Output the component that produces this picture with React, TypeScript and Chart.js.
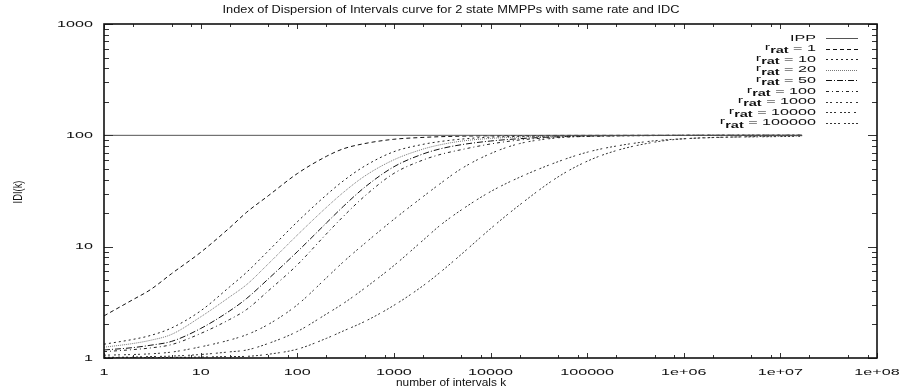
import React, { useEffect, useRef } from "react";
import { Chart, registerables } from "chart.js";

Chart.register(...registerables);

// Number of intervals k at which each IDI curve is sampled
const kValues = [
  1, 2, 3, 5, 10, 20, 30, 50, 100, 200, 300, 500, 1000, 2000, 3000, 5000,
  1e4, 2e4, 5e4, 1e5, 2e5, 5e5, 1e6, 1e7, 16777216,
];

// Interrupted Poisson process: constant IDI
const ippK = [1, 16777216];
const ippIdi = [100, 100];

// IDI(k) of the 2 state MMPPs, one array per rate ratio
const idiR1 = [2.39, 3.35, 4.09, 5.72, 8.89, 14.8, 20.4, 28.6, 45.3, 64.7, 75.7, 84.4, 92.2, 95.8, 97.2, 98.3, 99.1, 99.5, 99.8, 99.9, 99.95, 100, 100, 100, 100];
const idiR10 = [1.33, 1.47, 1.59, 1.86, 2.65, 4.36, 5.9, 9.13, 16.7, 29.1, 39.0, 53.0, 71.3, 83.0, 87.9, 92.5, 96.4, 97.8, 98.9, 99.4, 99.7, 99.9, 99.95, 100, 100];
const idiR20 = [1.25, 1.35, 1.44, 1.63, 2.34, 3.54, 4.57, 6.99, 12.7, 22.5, 30.7, 43.1, 60.3, 75.2, 82.2, 88.7, 93.8, 96.4, 98.2, 99.0, 99.5, 99.8, 99.9, 100, 100];
const idiR50 = [1.18, 1.24, 1.3, 1.41, 1.84, 2.65, 3.43, 5.12, 9.0, 16.3, 23.0, 34.2, 52.2, 68.0, 75.5, 82.4, 88.9, 93.3, 97.2, 98.5, 99.2, 99.6, 99.8, 100, 100];
const idiR100 = [1.14, 1.19, 1.23, 1.32, 1.66, 2.22, 2.73, 4.0, 6.86, 13.0, 18.7, 28.5, 45.5, 60.0, 67.2, 74.4, 83.6, 90.8, 96.0, 97.7, 98.8, 99.5, 99.8, 100, 100];
const idiR1000 = [1.06, 1.075, 1.09, 1.13, 1.26, 1.45, 1.62, 2.0, 3.0, 5.24, 7.3, 10.7, 17.6, 28.1, 36.7, 50.2, 68.5, 84.3, 95.0, 98.4, 99.2, 99.6, 99.8, 100, 100];
const idiR10000 = [1.015, 1.02, 1.03, 1.04, 1.075, 1.135, 1.18, 1.35, 1.73, 2.48, 3.09, 4.24, 6.76, 11.4, 15.5, 21.4, 31.2, 42.0, 58.0, 70.5, 80.1, 89.4, 93.2, 98.5, 99.0];
const idiR100000 = [1.005, 1.006, 1.008, 1.012, 1.02, 1.03, 1.035, 1.08, 1.2, 1.5, 1.75, 2.13, 2.97, 4.45, 5.86, 8.55, 14.5, 23.7, 42.3, 58.5, 72.9, 86.9, 93.1, 97.5, 98.0];

const rRatios = [1, 10, 20, 50, 100, 1000, 10000, 100000];
const rCurves = [idiR1, idiR10, idiR20, idiR50, idiR100, idiR1000, idiR10000, idiR100000];

const xTickValues = [1, 10, 100, 1000, 1e4, 1e5, 1e6, 1e7, 1e8];
const xTickLabels = ["1", "10", "100", "1000", "10000", "100000", "1e+06", "1e+07", "1e+08"];
const yTickValues = [1, 10, 100, 1000];
const yTickLabels = ["1", "10", "100", "1000"];
const xMinorMultipliers = [2, 5, 8];
const yMinorMultipliers = [2, 3, 4, 5, 6, 7, 8, 9];

const titleText = "Index of Dispersion of Intervals curve for 2 state MMPPs with same rate and IDC";
const xAxisTitle = "number of intervals k";
const yAxisTitle = "IDI(k)";

// line styles in the order of rRatios
const curveStyles = [
  { color: "#111", dash: [4, 3] },
  { color: "#222", dash: [2, 3] },
  { color: "#777", dash: [1, 1] },
  { color: "#111", dash: [6, 2, 1, 2] },
  { color: "#222", dash: [3, 3, 1, 3] },
  { color: "#333", dash: [2, 2, 2, 4] },
  { color: "#333", dash: [2, 2, 2, 2, 2, 4] },
  { color: "#333", dash: [2, 2, 2, 2, 2, 2, 2, 4] },
];
const ippStyle = { color: "#555", dash: [] as number[] };

const FONT = '"Liberation Sans", Arial, Helvetica, sans-serif';
const TEXT_COLOR = "#111";

function drawText(
  ctx: CanvasRenderingContext2D,
  text: string,
  x: number,
  y: number,
  size: number,
  sx: number,
  align: CanvasTextAlign,
  weight = "normal"
) {
  ctx.save();
  ctx.translate(x, y);
  ctx.scale(sx, 1);
  ctx.font = `${weight} ${size}px ${FONT}`;
  ctx.fillStyle = TEXT_COLOR;
  ctx.textAlign = align;
  ctx.textBaseline = "middle";
  ctx.fillText(text, 0, 0);
  ctx.restore();
}

function textWidth(ctx: CanvasRenderingContext2D, text: string, size: number, sx: number, weight = "normal") {
  ctx.save();
  ctx.font = `${weight} ${size}px ${FONT}`;
  const w = ctx.measureText(text).width * sx;
  ctx.restore();
  return w;
}

const LABEL_SIZE = 9.5;
const LABEL_SX = 1.7;

const gnuplotFrame = {
  id: "gnuplotFrame",
  afterDatasetsDraw(chart: any) {
    const { ctx, chartArea: a, scales } = chart;
    const xs = scales.x;
    const ys = scales.y;
    ctx.save();

    // tick marks pointing inwards on all four sides
    ctx.strokeStyle = "#333";
    ctx.lineWidth = 1;
    ctx.setLineDash([]);
    ctx.beginPath();
    xTickValues.forEach((v, i) => {
      const px = Math.round(xs.getPixelForValue(v)) + 0.5;
      ctx.moveTo(px, a.bottom);
      ctx.lineTo(px, a.bottom - 5);
      ctx.moveTo(px, a.top);
      ctx.lineTo(px, a.top + 5);
      if (i < xTickValues.length - 1) {
        xMinorMultipliers.forEach((m) => {
          const mx = Math.round(xs.getPixelForValue(v * m)) + 0.5;
          ctx.moveTo(mx, a.bottom);
          ctx.lineTo(mx, a.bottom - 3);
          ctx.moveTo(mx, a.top);
          ctx.lineTo(mx, a.top + 3);
        });
      }
    });
    yTickValues.forEach((v, i) => {
      const py = Math.round(ys.getPixelForValue(v)) + 0.5;
      ctx.moveTo(a.left, py);
      ctx.lineTo(a.left + 9, py);
      ctx.moveTo(a.right, py);
      ctx.lineTo(a.right - 9, py);
      if (i < yTickValues.length - 1) {
        yMinorMultipliers.forEach((m) => {
          const my = Math.round(ys.getPixelForValue(v * m)) + 0.5;
          ctx.moveTo(a.left, my);
          ctx.lineTo(a.left + 5, my);
          ctx.moveTo(a.right, my);
          ctx.lineTo(a.right - 5, my);
        });
      }
    });
    ctx.stroke();

    // plot border
    ctx.strokeStyle = "#111";
    ctx.lineWidth = 1.6;
    ctx.strokeRect(a.left, a.top, a.right - a.left, a.bottom - a.top);
    ctx.restore();
  },
  afterDraw(chart: any) {
    const { ctx, chartArea: a, scales } = chart;
    const xs = scales.x;
    const ys = scales.y;
    const W = chart.width;

    // tick labels
    xTickValues.forEach((v, i) => {
      drawText(ctx, xTickLabels[i], xs.getPixelForValue(v), a.bottom + 14, LABEL_SIZE, LABEL_SX, "center");
    });
    yTickValues.forEach((v, i) => {
      drawText(ctx, yTickLabels[i], a.left - 11, ys.getPixelForValue(v), LABEL_SIZE, LABEL_SX, "right");
    });

    // titles
    drawText(ctx, titleText, W / 2, 10, 10.5, 1.22, "center");
    drawText(ctx, xAxisTitle, 451, a.bottom + 25, 10.5, 1.13, "center");
    ctx.save();
    ctx.translate(18, 192);
    ctx.rotate(-Math.PI / 2);
    ctx.scale(0.72, 1);
    ctx.font = `normal 13px ${FONT}`;
    ctx.fillStyle = TEXT_COLOR;
    ctx.textAlign = "center";
    ctx.textBaseline = "middle";
    ctx.fillText(yAxisTitle, 0, 0);
    ctx.restore();

    // key in the upper right corner
    const textRight = 816;
    const sampleLeft = 826;
    const sampleRight = 858;
    const rowTop = 38;
    const rowStep = 10.6;
    const entries = [{ style: ippStyle, ratio: null as number | null }].concat(
      rRatios.map((r, i) => ({ style: curveStyles[i], ratio: r }))
    );
    entries.forEach((e, i) => {
      const y = rowTop + i * rowStep;
      if (e.ratio === null) {
        drawText(ctx, "IPP", textRight, y, LABEL_SIZE, LABEL_SX, "right");
      } else {
        const tail = ` = ${e.ratio}`;
        const wTail = textWidth(ctx, tail, LABEL_SIZE, LABEL_SX);
        const wSub = textWidth(ctx, "rat", 8.5, LABEL_SX, "bold");
        const wR = textWidth(ctx, "r", LABEL_SIZE, LABEL_SX);
        const start = textRight - wTail - wSub - wR;
        drawText(ctx, "r", start, y - 1, LABEL_SIZE, LABEL_SX, "left");
        drawText(ctx, "rat", start + wR, y + 2.5, 8.5, LABEL_SX, "left", "bold");
        drawText(ctx, tail, start + wR + wSub, y, LABEL_SIZE, LABEL_SX, "left");
      }
      ctx.save();
      ctx.strokeStyle = e.style.color;
      ctx.lineWidth = 1;
      ctx.setLineDash(e.style.dash);
      ctx.beginPath();
      ctx.moveTo(sampleLeft, Math.round(y) + 0.5);
      ctx.lineTo(sampleRight, Math.round(y) + 0.5);
      ctx.stroke();
      ctx.restore();
    });
  },
};

export default function App() {
  const canvasRef = useRef<HTMLCanvasElement | null>(null);

  useEffect(() => {
    const canvas = canvasRef.current;
    if (!canvas) return;

    const datasets: any[] = [
      {
        label: "IPP",
        data: ippK.map((k, i) => ({ x: k, y: ippIdi[i] })),
        borderColor: ippStyle.color,
        borderWidth: 1,
        borderDash: ippStyle.dash,
      },
      ...rCurves.map((vals, i) => ({
        label: `r_rat = ${rRatios[i]}`,
        data: kValues.map((k, j) => ({ x: k, y: vals[j] })),
        borderColor: curveStyles[i].color,
        borderDash: curveStyles[i].dash,
        borderWidth: 1,
        cubicInterpolationMode: "monotone",
      })),
    ];

    const chart = new Chart(canvas, {
      type: "line",
      data: { datasets },
      options: {
        animation: false,
        responsive: false,
        layout: { padding: { left: 104, right: 25, top: 24, bottom: 33 } },
        elements: { point: { radius: 0 } },
        plugins: {
          legend: { display: false },
          title: { display: false },
          tooltip: { enabled: false },
        },
        scales: {
          x: { type: "logarithmic", min: 1, max: 1e8, display: false },
          y: { type: "logarithmic", min: 1, max: 1000, display: false },
        },
      },
      plugins: [gnuplotFrame],
    } as any);

    return () => chart.destroy();
  }, []);

  return (
    <div style={{ position: "absolute", left: 0, top: 0, width: 902, height: 391, background: "#fff" }}>
      <canvas ref={canvasRef} width={902} height={391} style={{ display: "block" }} />
    </div>
  );
}
